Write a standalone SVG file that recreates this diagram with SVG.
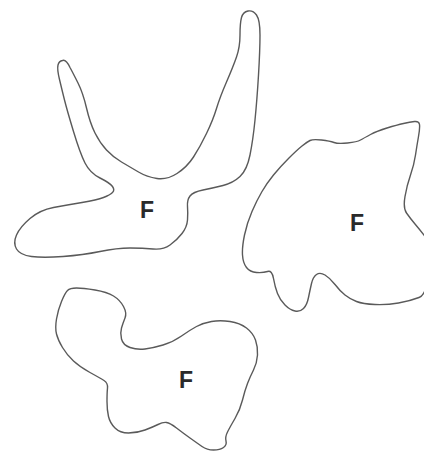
<svg xmlns="http://www.w3.org/2000/svg" width="424" height="453" viewBox="0 0 424 453">
<style>
.blob{fill:#fff;stroke:#5a5a5a;stroke-width:1.4;stroke-linejoin:round}
.lbl{font-family:"Liberation Sans",Arial,sans-serif;font-size:23px;font-weight:bold;fill:#2a2a2a}
</style>
<rect width="424" height="453" fill="#fff"/>
<g id="shape1">
<path class="blob" d="M62.5,60.5 Q59,61 58,65 Q57,69 59.5,79.5 Q62,90 64.5,100 Q67,110 73.5,131.5 Q80,153 85,163 Q90,173 100,178 Q110,183 112.5,186.5 Q115,190 112.5,192.5 Q110,195 103.5,197.5 Q97,200 82,202.5 Q67,205 53.5,207.5 Q40,210 30,218.5 Q20,227 16.5,235 Q13,243 16.5,249 Q20,255 31.5,256.5 Q43,258 63,256.5 Q83,255 100,251.5 Q117,248 130,248 Q143,248 153,249 Q163,250 170,245 Q177,240 182,233.5 Q187,227 187.5,220 Q188,213 187.5,206.5 Q187,200 190,196 Q193,192 203,190 Q213,188 223,185.5 Q233,183 240,176.5 Q247,170 250,155 Q253,140 255,120 Q257,100 258.5,75 Q260,50 260,35 Q260,20 256.5,15 Q253,10 248,11 Q243,12 241.5,17.5 Q240,23 240,35 Q240,47 236.5,57 Q233,67 226.5,82 Q220,97 216.5,108.5 Q213,120 206.5,133.5 Q200,147 193.5,157 Q187,167 177,173.5 Q167,180 157,178.5 Q147,177 138.5,172 Q130,167 121.5,162 Q113,157 106.5,150 Q100,143 95,133 Q90,123 86.5,108 Q83,93 78,83 Q73,73 70,67.5 Q66,59 62.5,60.5 Z"/>
<text class="lbl" x="140" y="218">F</text>
</g>
<g id="shape2">
<path class="blob" d="M302,146 Q307,142 310,140.5 Q313,139 321.5,140 Q330,141 334,142.5 Q338,144 347.5,143 Q357,142 360.5,140 Q364,138 370.5,134.5 Q377,131 387,128 Q397,125 403.5,123.5 Q410,122 414.5,121.5 Q419,121 419.5,124.5 Q420,128 418.5,136.5 Q417,145 415.5,155 Q414,165 410.5,175 Q407,185 405,196.5 Q403,208 406.5,213 Q410,218 415,224 Q420,230 424,235 Q428,240 428,267 Q428,294 419,297.5 Q410,301 398.5,303 Q387,305 375,304.5 Q363,304 356.5,301.5 Q350,299 345,295 Q340,291 335,284.5 Q330,278 325,275 Q320,272 316.5,274.5 Q313,277 311.5,283.5 Q310,290 308.5,297.5 Q307,305 303.5,308.5 Q300,312 295,311 Q290,310 285,305 Q280,300 277.5,293.5 Q275,287 273.5,278.5 Q272,270 267.5,271.5 Q263,273 256.5,272.5 Q250,272 246.5,267.5 Q243,263 242.5,255 Q242,247 244.5,235 Q247,223 252,211.5 Q257,200 262,191.5 Q267,183 273.5,175 Q280,167 288.5,158.5 Q297,150 302,146 Z"/>
<text class="lbl" x="350" y="231">F</text>
</g>
<g id="shape3">
<path class="blob" d="M67.5,290.5 Q70,288 76.5,288 Q83,288 95,290 Q107,292 113.5,296 Q120,300 123.5,306.5 Q127,313 125,318 Q123,323 121.5,328 Q120,333 121.5,339 Q123,345 130,347.5 Q137,350 145,349 Q153,348 163,345 Q173,342 181.5,336 Q190,330 196.5,326.5 Q203,323 211.5,321.5 Q220,320 230,321.5 Q240,323 246.5,328 Q253,333 255.5,340 Q258,347 257.5,355 Q257,363 253.5,370 Q250,377 247.5,383.5 Q245,390 242.5,400 Q240,410 235,418.5 Q230,427 227.5,432 Q225,437 226,441 Q227,445 223.5,447.5 Q220,450 213.5,450 Q207,450 202,446.5 Q197,443 190,438 Q183,433 176.5,428 Q170,423 166.5,422.5 Q163,422 158,424.5 Q153,427 145,430 Q137,433 128.5,433 Q120,433 115,428 Q110,423 108.5,416.5 Q107,410 107,401.5 Q107,393 107.5,388 Q108,383 104,380.5 Q100,378 90,372.5 Q80,367 73.5,361 Q67,355 62.5,347.5 Q58,340 56.5,334 Q55,328 56.5,319 Q58,310 61.5,301.5 Q65,293 67.5,290.5 Z"/>
<text class="lbl" x="179" y="388">F</text>
</g>
<g id="connectors"/>
</svg>
